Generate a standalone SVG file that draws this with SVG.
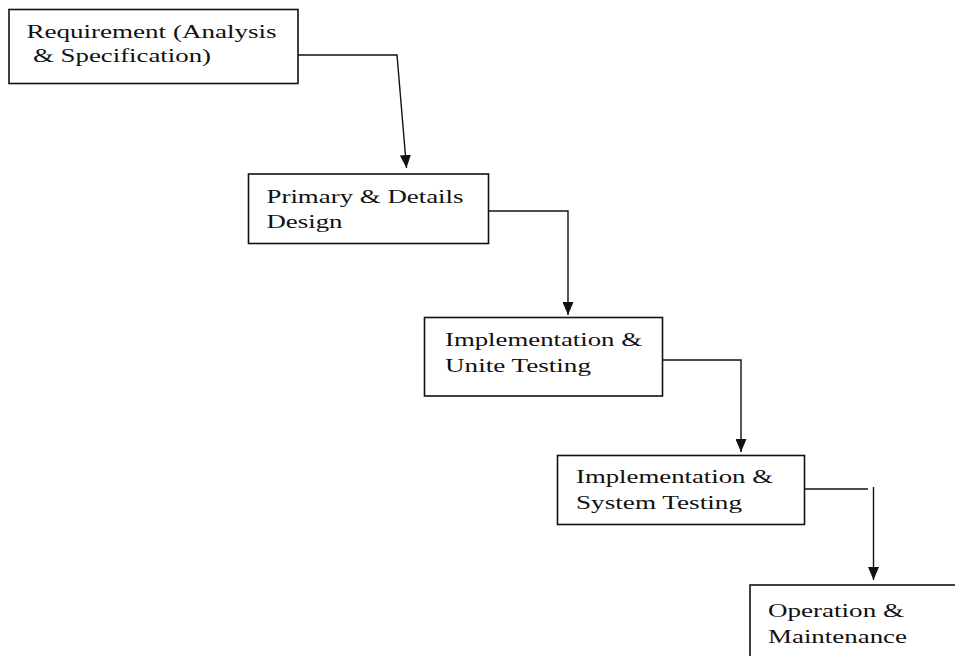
<svg xmlns="http://www.w3.org/2000/svg" width="955" height="656" viewBox="0 0 955 656">
  <defs>
    <style>
      .box { fill: #ffffff; stroke: #111111; stroke-width: 1.6; }
      .label { font-family: "Liberation Serif", "Times New Roman", serif; font-size: 19px; fill: #111111; }
      .link { fill: none; stroke: #111111; stroke-width: 1.4; }
    </style>
    <marker id="arrow" viewBox="0 0 13 11" refX="13" refY="5.5" markerWidth="13" markerHeight="11" markerUnits="userSpaceOnUse" orient="auto">
      <path d="M0,0 L13,5.5 L0,11 z" fill="#111111"/>
    </marker>
  </defs>
  <rect width="955" height="656" fill="#ffffff"/>

  <!-- Waterfall stages -->
  <g id="requirement">
    <rect class="box" x="9" y="9.5" width="289" height="74"/>
    <text class="label" x="26.5" y="38" textLength="250" lengthAdjust="spacingAndGlyphs">Requirement (Analysis</text>
    <text class="label" x="33" y="62" textLength="178" lengthAdjust="spacingAndGlyphs">&amp; Specification)</text>
  </g>

  <g id="design">
    <rect class="box" x="248.5" y="174" width="240" height="69.5"/>
    <text class="label" x="266.5" y="202.5" textLength="197" lengthAdjust="spacingAndGlyphs">Primary &amp; Details</text>
    <text class="label" x="266.5" y="228" textLength="76" lengthAdjust="spacingAndGlyphs">Design</text>
  </g>

  <g id="unit-testing">
    <rect class="box" x="424.5" y="317.5" width="238" height="78.5"/>
    <text class="label" x="445" y="346" textLength="197" lengthAdjust="spacingAndGlyphs">Implementation &amp;</text>
    <text class="label" x="445" y="371.5" textLength="146" lengthAdjust="spacingAndGlyphs">Unite Testing</text>
  </g>

  <g id="system-testing">
    <rect class="box" x="557.5" y="455.5" width="247" height="69"/>
    <text class="label" x="576" y="483" textLength="197" lengthAdjust="spacingAndGlyphs">Implementation &amp;</text>
    <text class="label" x="576" y="508.5" textLength="166" lengthAdjust="spacingAndGlyphs">System Testing</text>
  </g>

  <g id="operation">
    <rect class="box" x="750" y="585" width="220" height="90"/>
    <text class="label" x="768" y="616.5" textLength="136" lengthAdjust="spacingAndGlyphs">Operation &amp;</text>
    <text class="label" x="768" y="642.5" textLength="139" lengthAdjust="spacingAndGlyphs">Maintenance</text>
  </g>

  <!-- Flow between stages -->
  <g id="connectors">
    <polyline class="link" points="298,55 397,55 406.5,168" marker-end="url(#arrow)"/>
    <polyline class="link" points="488.5,211 568,211 568,315" marker-end="url(#arrow)"/>
    <polyline class="link" points="662.5,360 741,360 741,452" marker-end="url(#arrow)"/>
    <line class="link" x1="804.5" y1="489" x2="868" y2="489"/>
    <line class="link" x1="873.5" y1="487" x2="873.5" y2="580" marker-end="url(#arrow)"/>
  </g>
</svg>
